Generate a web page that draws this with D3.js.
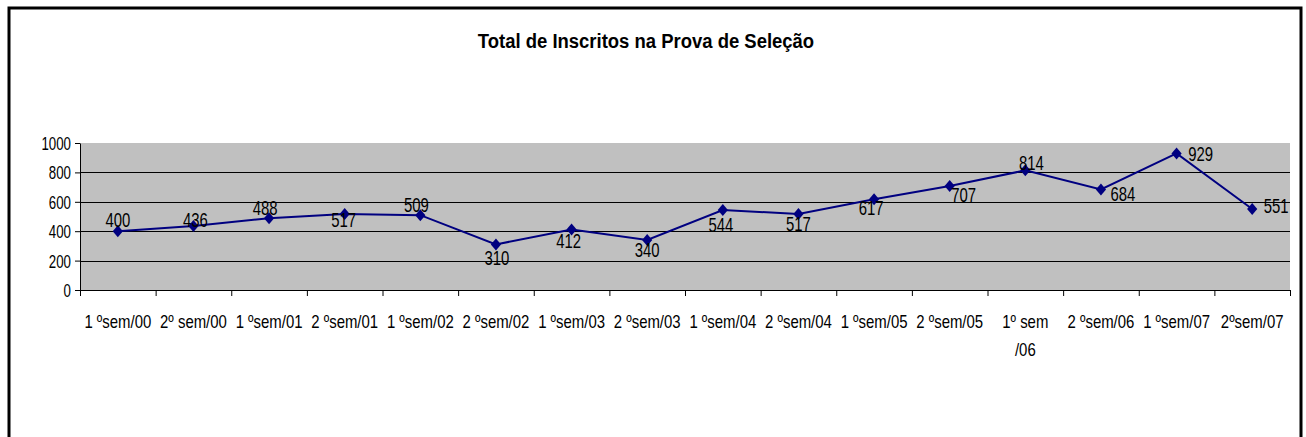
<!DOCTYPE html>
<html>
<head>
<meta charset="utf-8">
<script src="https://cdn.jsdelivr.net/npm/d3@7"></script>
<style>
  body { margin: 0; background: #fff; }
  text { font-family: "Liberation Sans", Arial, sans-serif; fill: #000; }
</style>
</head>
<body>
<div class="chart"></div>
<script>
// data
const categories = ["1 ºsem/00", "2º sem/00", "1 ºsem/01", "2 ºsem/01", "1 ºsem/02", "2 ºsem/02",
    "1 ºsem/03", "2 ºsem/03", "1 ºsem/04", "2 ºsem/04", "1 ºsem/05", "2 ºsem/05",
    "1º sem\n/06", "2 ºsem/06", "1 ºsem/07", "2ºsem/07"];
const inscritos = [400, 436, 488, 517, 509, 310, 412, 340, 544, 517, 617, 707, 814, 684, 929, 551];
const yTicks = [0, 200, 400, 600, 800, 1000];
const title = "Total de Inscritos na Prova de Seleção";

// where each value label sits relative to its point (dx, baseline dy)
const labelPos = [[0, -4], [2, 1], [-4, -3], [-1, 13], [-4, -3], [1, 21], [-3, 19], [0, 17],
    [-2, 22], [0, 17], [-3, 16], [14, 16], [6, 0], [22, 12], [24, 8], [24, 4]];

const W = 1306, H = 437;
const margin = { top: 143, right: 16, bottom: 147, left: 80 };
const width = W - margin.left - margin.right;
const height = H - margin.top - margin.bottom;

const svg = d3.select(".chart").append("svg")
    .attr("width", W)
    .attr("height", H);

// outer frame (open at the bottom, as in the picture)
svg.append("path")
    .attr("d", "M9," + H + "V8H1301V" + H)
    .attr("fill", "none")
    .attr("stroke", "#000")
    .attr("stroke-width", 3);

// squeezed text helper: the original text is narrow
function squeezed(sel, x, y, sx) {
    return sel.attr("transform", "translate(" + x + "," + y + ") scale(" + sx + ",1)");
}

squeezed(svg.append("text"), 646, 48, 0.88)
    .attr("text-anchor", "middle")
    .style("font-size", "21px")
    .style("font-weight", "bold")
    .text(title);

const g = svg.append("g")
    .attr("transform", "translate(" + margin.left + "," + margin.top + ")");

const x = d3.scaleBand().domain(categories).range([0, width]);
const xEdge = d3.scaleLinear().domain([0, categories.length]).range([0, width]);
const y = d3.scaleLinear().domain([0, 1000]).range([height, 0]);
const cx = d => x(d) + x.bandwidth() / 2;

g.append("rect")
    .attr("width", width)
    .attr("height", height)
    .attr("fill", "#c0c0c0");

// gridlines
g.selectAll(".grid")
    .data(yTicks.filter(t => t > 0 && t < 1000))
    .enter()
    .append("line")
    .attr("class", "grid")
    .attr("x1", 0).attr("x2", width)
    .attr("y1", d => Math.round(y(d)) + 0.5)
    .attr("y2", d => Math.round(y(d)) + 0.5)
    .attr("stroke", "#000")
    .attr("stroke-width", 1);

// y axis
const yAxis = g.append("g")
    .call(d3.axisLeft(y).tickValues(yTicks).tickSize(5).tickSizeOuter(0).tickFormat(""));
yAxis.select(".domain").attr("stroke", "#000");
yTicks.forEach(t => {
    squeezed(g.append("text"), -9, y(t) + 7, 0.7)
        .attr("text-anchor", "end")
        .style("font-size", "19px")
        .text(t);
});

// x axis, ticks between categories
g.append("g")
    .attr("transform", "translate(0," + height + ")")
    .call(d3.axisBottom(xEdge).tickValues(d3.range(categories.length + 1))
        .tickSize(6).tickSizeOuter(0).tickFormat(""));

categories.forEach(c => {
    c.split("\n").forEach((line, i) => {
        squeezed(g.append("text"), cx(c), height + 38 + i * 28, 0.83)
            .attr("text-anchor", "middle")
            .style("font-size", "18px")
            .text(line);
    });
});

// line
g.append("path")
    .datum(inscritos)
    .attr("fill", "none")
    .attr("stroke", "#000080")
    .attr("stroke-width", 2)
    .attr("d", d3.line()
        .x((d, i) => cx(categories[i]))
        .y(d => y(d)));

// diamond markers
g.selectAll(".dot")
    .data(inscritos)
    .enter()
    .append("path")
    .attr("class", "dot")
    .attr("d", d3.symbol(d3.symbolDiamond2, 92))
    .attr("transform", (d, i) => "translate(" + cx(categories[i]) + "," + y(d) + ") scale(0.85,1)")
    .attr("fill", "#000080");

// value labels
inscritos.forEach((v, i) => {
    squeezed(g.append("text"), cx(categories[i]) + labelPos[i][0], y(v) + labelPos[i][1], 0.71)
        .attr("text-anchor", "middle")
        .style("font-size", "21px")
        .text(v);
});
</script>
</body>
</html>
